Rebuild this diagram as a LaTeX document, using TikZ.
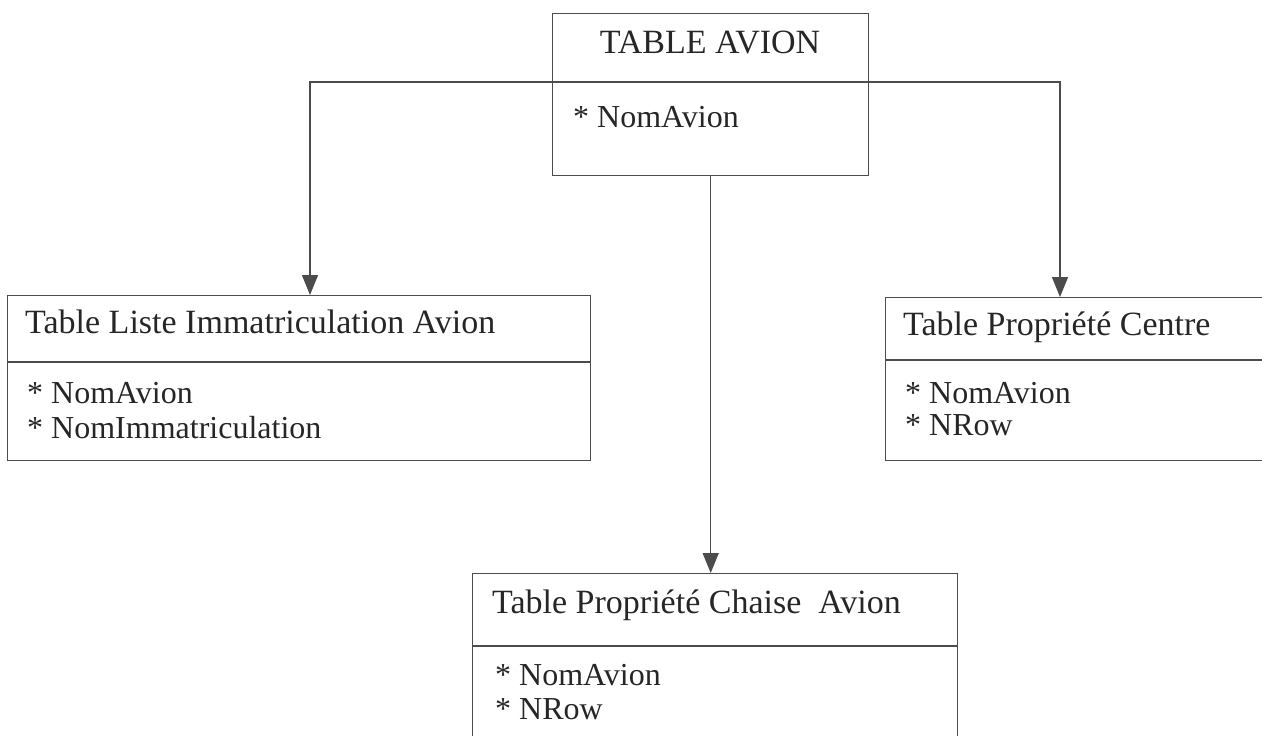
\documentclass[tikz,border=0pt]{standalone}
\usepackage{fontspec}
\setmainfont{Liberation Serif}
\usetikzlibrary{arrows.meta,positioning}

\begin{document}
\begin{tikzpicture}[x=1pt,y=-1pt]

\useasboundingbox (0,0) rectangle (1262,736);
\clip (0,0) rectangle (1262,736);

% set styles here
\tikzstyle{tablebox}=[draw=black!70,line width=1.4pt,rectangle,anchor=north west,inner sep=0pt];
\tikzstyle{tabletitle}=[inner sep=0pt,text=black!85,font=\fontsize{34}{40}\selectfont];
\tikzstyle{tablefield}=[inner sep=0pt,anchor=base west,text=black!85,font=\fontsize{32}{36}\selectfont];
\tikzstyle{rule}=[draw=black!70,line width=1.2pt];
\tikzstyle{link}=[draw=black!70,line width=1.4pt,-{Triangle[width=16pt,length=20pt]}];
%
\node (avion) at (552, 13) [tablebox,minimum width=316pt,minimum height=162pt]{};
\node (liste) at (7, 295) [tablebox,minimum width=583pt,minimum height=165pt]{};
\node (centre) at (885, 297) [tablebox,minimum width=420pt,minimum height=163pt]{};
\node (chaise) at (472, 573) [tablebox,minimum width=485pt,minimum height=165pt]{};

% titles and fields
\node (avion-t) at (710, 53) [tabletitle,anchor=base]{TABLE AVION};
\node (avion-f1) at (573, 127) [tablefield]{* NomAvion};

\node (liste-t) at (25, 333) [tabletitle,anchor=base west]{Table Liste Immatriculation Avion};
\node (liste-f1) at (27, 403) [tablefield]{* NomAvion};
\node (liste-f2) at (27, 438) [tablefield]{* NomImmatriculation};

\node (centre-t) at (903, 335) [tabletitle,anchor=base west]{Table Propriété Centre};
\node (centre-f1) at (905, 403) [tablefield]{* NomAvion};
\node (centre-f2) at (905, 435) [tablefield]{* NRow};

\node (chaise-t) at (492, 613) [tabletitle,anchor=base west]{Table Propriété Chaise\ \ Avion};
\node (chaise-f1) at (495, 685) [tablefield]{* NomAvion};
\node (chaise-f2) at (495, 719) [tablefield]{* NRow};

% dividers
\coordinate (avion-cut) at (552, 82);
\coordinate (liste-cut) at (7, 362);
\coordinate (centre-cut) at (885, 360);
\coordinate (chaise-cut) at (472, 646);
\draw[rule] (avion-cut) -- (avion-cut -| avion.east);
\draw[rule] (liste-cut) -- (liste-cut -| liste.east);
\draw[rule] (centre-cut) -- (centre-cut -| centre.east);
\draw[rule] (chaise-cut) -- (chaise-cut -| chaise.east);

% links
\coordinate (liste-in) at (310, 295);
\coordinate (centre-in) at (1060, 297);
\draw[link] (avion-cut) -| (liste-in);
\draw[link] (avion-cut -| avion.east) -| (centre-in);
\draw[link] (avion.south) -- (avion.south |- chaise.north);

\end{tikzpicture}
\end{document}
